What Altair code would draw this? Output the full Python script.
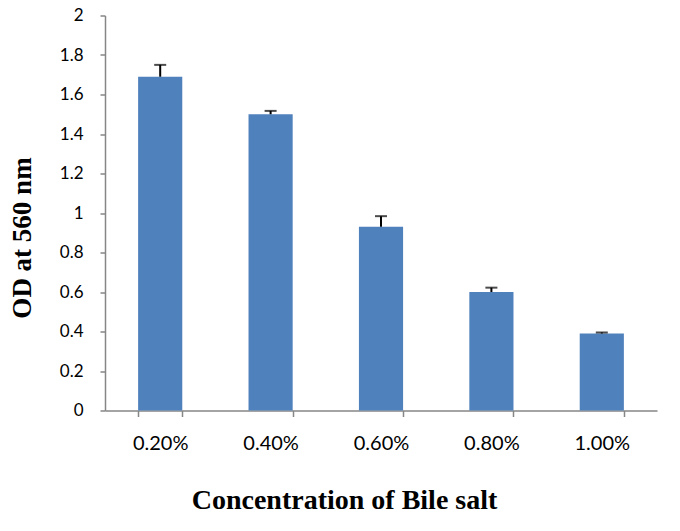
import altair as alt
import pandas as pd

concentration = ["0.20%", "0.40%", "0.60%", "0.80%", "1.00%"]
od_values = [1.69, 1.50, 0.93, 0.60, 0.39]
od_errors = [0.06, 0.017, 0.054, 0.022, 0.005]
y_ticks = [0, 0.2, 0.4, 0.6, 0.8, 1.0, 1.2, 1.4, 1.6, 1.8, 2.0]

df = pd.DataFrame({"conc": concentration, "od": od_values, "err": od_errors})
df["top"] = df["od"] + df["err"]

AXIS_GRAY = "#868686"

x_axis = alt.Axis(
    title="Concentration of Bile salt",
    titleFont="Liberation Serif",
    titleFontSize=28,
    titleFontWeight="bold",
    titleColor="black",
    titleBaseline="alphabetic",
    titleAlign="center",
    titleX=239,
    titleY=98,
    labelFont="Lato",
    labelFontSize=20,
    labelColor="black",
    labelPadding=17,
    labelAngle=0,
    tickBand="extent",
    tickSize=6,
    tickColor=AXIS_GRAY,
    domainColor=AXIS_GRAY,
    tickWidth=1.5,
    domainWidth=1.5,
    grid=False,
)

y_axis = alt.Axis(
    values=y_ticks,
    format=".1~f",
    labelOverlap=False,
    title="OD at 560 nm",
    titleFont="Liberation Serif",
    titleFontSize=27,
    titleFontWeight="bold",
    titleColor="black",
    titleAngle=-90,
    titleBaseline="alphabetic",
    titleAlign="center",
    titleX=-75,
    titleY=222,
    labelFont="Lato",
    labelFontSize=17,
    labelColor="black",
    labelPadding=17,
    tickSize=5,
    tickColor=AXIS_GRAY,
    domainColor=AXIS_GRAY,
    tickWidth=1.5,
    domainWidth=1.5,
    grid=False,
)

x_scale = alt.Scale(paddingInner=0.6, paddingOuter=0.3)
y_scale = alt.Scale(domain=[0, 2], nice=False)

base = alt.Chart(df).encode(
    x=alt.X("conc:N", sort=concentration, scale=x_scale, axis=x_axis)
)

bars = base.mark_bar(color="#4F81BD").encode(
    y=alt.Y("od:Q", scale=y_scale, axis=y_axis),
)

err_rule = base.mark_rule(color="black", strokeWidth=2).encode(
    y=alt.Y("od:Q", scale=y_scale, axis=y_axis),
    y2="top:Q",
)

err_cap = base.mark_tick(color="black", thickness=2, size=12).encode(
    y=alt.Y("top:Q", scale=y_scale, axis=y_axis),
)

chart = (
    alt.layer(bars, err_rule, err_cap)
    .properties(
        width=552,
        height=395,
        background="white",
        autosize=alt.AutoSizeParams(type="none"),
        padding={"left": 97, "top": 7.5, "right": 15, "bottom": 107},
    )
    .configure_view(strokeWidth=0, stroke="transparent")
    .configure_axisY(labelOverlap=False)
)

chart.save("out.html", embed_options={"renderer": "svg", "actions": False})
